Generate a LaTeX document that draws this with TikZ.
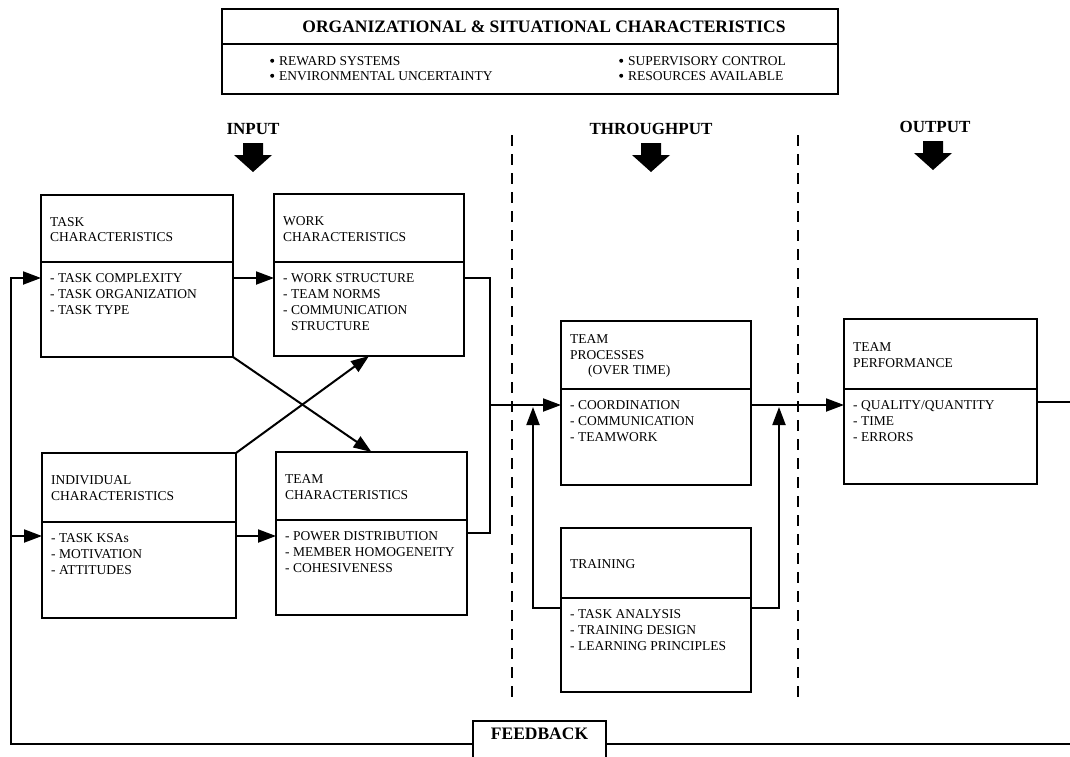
\documentclass[tikz,border=0pt]{standalone}
\usepackage{fontspec}
\setmainfont{Liberation Serif}
\usetikzlibrary{arrows.meta,calc}

% one box of the model: frame, header rule, heading and item list
% #1 name, #2/#3 top-left corner, #4 width, #5 height, #6 header depth, #7 heading, #8 items
\newcommand\ccbox[8]{%
  \node[frame, anchor=north west, minimum width=#4, minimum height=#5] (#1) at (#2,#3) {};
  \draw[frame] ($(#1.north west)+(0,#6)$) -- ($(#1.north east)+(0,#6)$);
  \node[boxtext, anchor=west] (#1-head) at ($(#1.north west)+(9,#6/2+1)$) {#7};
  \node[boxtext, anchor=north west] (#1-list) at ($(#1.north west)+(9,#6+11.5)$) {#8};
}
% a round list bullet
\newcommand\dotmark{\raisebox{2.6pt}{\tikz\fill (0,0) circle (2pt);}\kern5pt}

\tikzset{
  x=1pt, y=-1pt,
  frame/.style={draw, line width=2pt, outer sep=0pt, inner sep=0pt},
  boxtext/.style={font=\fontsize{13.5}{15.8}\selectfont, align=left, inner sep=0pt},
  stagelabel/.style={font=\fontsize{17}{20}\selectfont\bfseries, inner sep=0pt},
  wire/.style={draw, line width=2pt},
  arr/.style={wire, -{Triangle[length=18pt,width=13pt]}},
  phase/.style={line width=2.2pt, dash pattern=on 11pt off 8pt},
  downarrow/.pic={\fill (-10,-15) -- (10,-15) -- (10,-3) -- (19,-3) -- (0,14)
                   -- (-19,-3) -- (-10,-3) -- cycle;}
}

\begin{document}
\begin{tikzpicture}
\useasboundingbox (0,0) rectangle (1070,757);
\clip (0,0) rectangle (1070,757);
\fill[white] (0,0) rectangle (1070,757);

% organisational context
\node[frame, anchor=north west, minimum width=616, minimum height=85] (org) at (222,9) {};
\draw[frame] ($(org.north west)+(0,35)$) -- ($(org.north east)+(0,35)$);
\node[font=\fontsize{17.5}{20}\selectfont\bfseries, inner sep=0pt] (org-title) at ($(org.north)+(14,18)$)
  {ORGANIZATIONAL \& SITUATIONAL CHARACTERISTICS};
\node[font=\fontsize{13.5}{15}\selectfont, align=left, inner sep=0pt, anchor=west] (org-left) at (270,68.5)
  {\dotmark REWARD SYSTEMS\\\dotmark ENVIRONMENTAL UNCERTAINTY};
\node[font=\fontsize{13.5}{15}\selectfont, align=left, inner sep=0pt, anchor=west] (org-right) at (619,68.5)
  {\dotmark SUPERVISORY CONTROL\\\dotmark RESOURCES AVAILABLE};

% stage headings
\node[stagelabel] (inp) at (253,129) {INPUT};
\node[stagelabel] (thr) at (651,129) {THROUGHPUT};
\node[stagelabel] (outp) at (935,127) {OUTPUT};
\pic at (253,158) {downarrow};
\pic at (651,158) {downarrow};
\pic at (933,156) {downarrow};

% stage boundaries
\draw[phase] (512,135) -- (512,697);
\draw[phase] (798,135) -- (798,697);

% boxes
\ccbox{task}{41}{195}{192}{162}{67}{TASK\\CHARACTERISTICS}
  {- TASK COMPLEXITY\\- TASK ORGANIZATION\\- TASK TYPE}
\ccbox{work}{274}{194}{190}{162}{68}{WORK\\CHARACTERISTICS}
  {- WORK STRUCTURE\\- TEAM NORMS\\- COMMUNICATION\\\phantom{- }STRUCTURE}
\ccbox{ind}{42}{453}{194}{165}{69}{INDIVIDUAL\\CHARACTERISTICS}
  {- TASK KSAs\\- MOTIVATION\\- ATTITUDES}
\ccbox{team}{276}{452}{191}{163}{68}{TEAM\\CHARACTERISTICS}
  {- POWER DISTRIBUTION\\- MEMBER HOMOGENEITY\\- COHESIVENESS}
\ccbox{proc}{561}{321}{190}{164}{68}{TEAM\\PROCESSES\\\hspace*{18pt}(OVER TIME)}
  {- COORDINATION\\- COMMUNICATION\\- TEAMWORK}
\ccbox{train}{561}{528}{190}{164}{70}{TRAINING}
  {- TASK ANALYSIS\\- TRAINING DESIGN\\- LEARNING PRINCIPLES}
\ccbox{perf}{844}{319}{193}{165}{70}{TEAM\\PERFORMANCE}
  {- QUALITY/QUANTITY\\- TIME\\- ERRORS}

% feedback box, running off the lower edge
\node[frame, font=\fontsize{17.5}{20}\selectfont\bfseries, minimum width=133,
      text height=12pt, text depth=22pt, inner ysep=6pt, anchor=base] (fb) at (539.5,739) {FEEDBACK};

% routing rows and columns
\coordinate (rowA) at (0,278);
\coordinate (rowB) at (0,536);
\coordinate (rowT) at (0,533);
\coordinate (rowC) at (0,405);
\coordinate (rowTr) at (0,608);
\coordinate (colL) at (11,0);
\coordinate (colJ) at (490,0);
\coordinate (colTL) at (533,0);
\coordinate (colTR) at (779,0);
\coordinate (colR) at (1085,0);

% input connections
\draw[arr] (task.east |- rowA) -- (work.west |- rowA);
\draw[arr] (ind.east |- rowB) -- (team.west |- rowB);
\draw[arr] (task.south east) -- (team.north);
\draw[arr] (ind.north east) -- (work.south);

% into team processes
\draw[wire] (work.east |- rowA) -- (colJ |- rowA) -- (colJ |- rowT) -- (team.east |- rowT);
\draw[arr] (colJ |- rowC) -- (proc.west |- rowC);
\draw[arr] (proc.east |- rowC) -- (perf.west |- rowC);

% training influences
\draw[arr] (train.west |- rowTr) -- (colTL |- rowTr) -- ($(colTL |- rowC)+(0,2)$);
\draw[arr] (train.east |- rowTr) -- (colTR |- rowTr) -- ($(colTR |- rowC)+(0,2)$);

% feedback loop
\draw[wire] (perf.east) -- (colR |- perf.east) -- (colR |- fb.east) -- (fb.east);
\draw[arr] (fb.west) -- (colL |- fb.west) -- (colL |- rowA) -- (task.west |- rowA);
\draw[arr] (colL |- rowB) -- (ind.west |- rowB);
\end{tikzpicture}
\end{document}
